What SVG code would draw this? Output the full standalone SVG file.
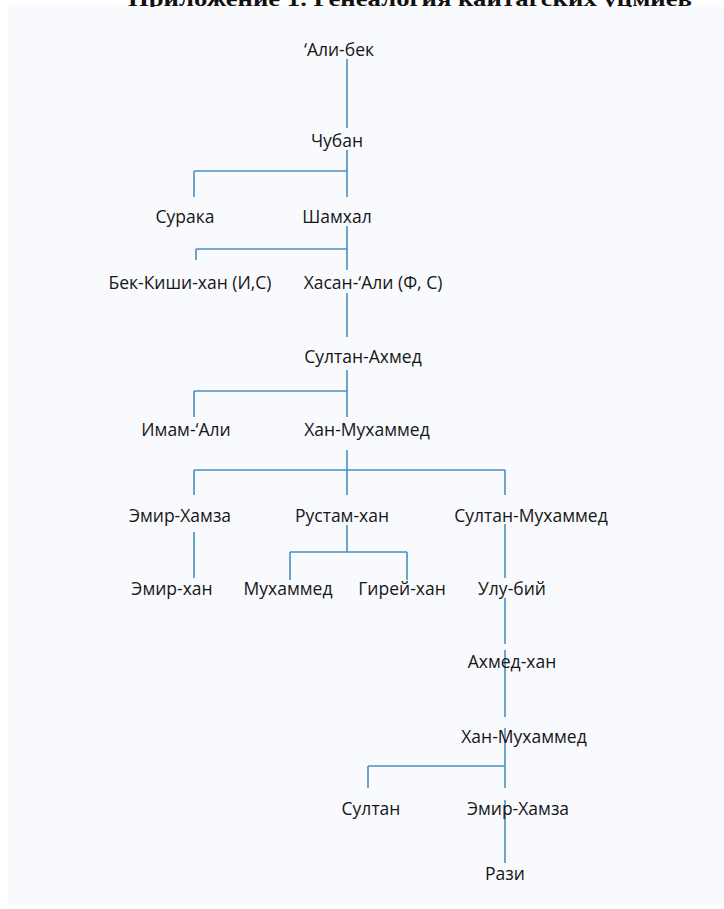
<svg xmlns="http://www.w3.org/2000/svg" width="724" height="909" viewBox="0 0 724 909">
<style>
.t{font-family:"Open Sans","Noto Sans","Liberation Sans",sans-serif;font-size:17.5px;fill:#161616;text-anchor:middle}
.ttl{font-family:"Liberation Serif",serif;font-size:22px;font-weight:bold;fill:#111}
.c{stroke:#4a8fbf;stroke-width:1.6;fill:none}
</style>
<rect x="0" y="0" width="724" height="909" fill="#ffffff"/>
<text class="ttl" x="128" y="6" textLength="564" lengthAdjust="spacingAndGlyphs">Приложение 1. Генеалогия кайтагских уцмиев</text>
<rect x="8" y="7" width="716" height="898" fill="#f9fafd"/>
<g id="connectors" class="c">
<path d="M347 59V128"/>
<path d="M347 150V197M194 171H347M194 171V197"/>
<path d="M347 226V270M196 249H347M196 249V260"/>
<path d="M347 293V337"/>
<path d="M347 370V417M194 391H347M194 391V417"/>
<path d="M347 450V495M194 470H505M194 470V495M505 470V495"/>
<path d="M194 532V578"/>
<path d="M347 525V552M290 552H407M290 552V580M407 552V580"/>
<path d="M505 524V578"/>
<path d="M505 598V644"/>
<path d="M505 650V717"/>
<path d="M505 728V788M368 766H505M368 766V788"/>
<path d="M505 800V863"/>
</g>
<g id="n1"><text class="t" x="339" y="56">‘Али-бек</text></g>
<g id="n2"><text class="t" x="337" y="147">Чубан</text></g>
<g id="n3"><text class="t" x="185" y="223">Сурака</text></g>
<g id="n4"><text class="t" x="337" y="223">Шамхал</text></g>
<g id="n5"><text class="t" x="190" y="289">Бек-Киши-хан (И,С)</text></g>
<g id="n6"><text class="t" x="373" y="289">Хасан-‘Али (Ф, С)</text></g>
<g id="n7"><text class="t" x="363" y="363">Султан-Ахмед</text></g>
<g id="n8"><text class="t" x="186" y="436">Имам-‘Али</text></g>
<g id="n9"><text class="t" x="367" y="436">Хан-Мухаммед</text></g>
<g id="n10"><text class="t" x="180" y="522">Эмир-Хамза</text></g>
<g id="n11"><text class="t" x="342" y="522">Рустам-хан</text></g>
<g id="n12"><text class="t" x="531" y="522">Султан-Мухаммед</text></g>
<g id="n13"><text class="t" x="172" y="595">Эмир-хан</text></g>
<g id="n14"><text class="t" x="288" y="595">Мухаммед</text></g>
<g id="n15"><text class="t" x="402" y="595">Гирей-хан</text></g>
<g id="n16"><text class="t" x="512" y="595">Улу-бий</text></g>
<g id="n17"><text class="t" x="512" y="668">Ахмед-хан</text></g>
<g id="n18"><text class="t" x="524" y="743">Хан-Мухаммед</text></g>
<g id="n19"><text class="t" x="371" y="815">Султан</text></g>
<g id="n20"><text class="t" x="518" y="815">Эмир-Хамза</text></g>
<g id="n21"><text class="t" x="505" y="880">Рази</text></g>
</svg>
